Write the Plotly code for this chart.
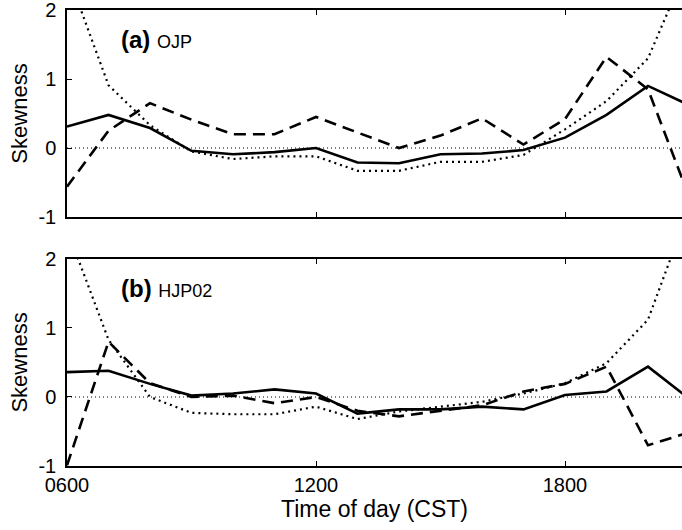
import plotly.graph_objects as go

hours = [6, 7, 8, 9, 10, 11, 12, 13, 14, 15, 16, 17, 18, 19, 20, 21]

# Panel (a) OJP
ojp_solid = [0.31, 0.48, 0.29, -0.04, -0.09, -0.06, 0.00, -0.21, -0.22, -0.09, -0.08, -0.03, 0.15, 0.48, 0.90, 0.62]
ojp_dashed = [-0.56, 0.25, 0.65, 0.41, 0.20, 0.20, 0.45, 0.22, 0.00, 0.18, 0.43, 0.05, 0.42, 1.32, 0.85, -0.72]
ojp_dotted = [2.55, 0.91, 0.33, -0.05, -0.16, -0.12, -0.12, -0.33, -0.33, -0.20, -0.20, -0.10, 0.27, 0.68, 1.30, 2.70]

# Panel (b) HJP02
hjp_solid = [0.36, 0.38, 0.19, 0.02, 0.05, 0.11, 0.05, -0.24, -0.18, -0.18, -0.14, -0.18, 0.03, 0.08, 0.44, -0.03]
hjp_dashed = [-0.99, 0.80, 0.20, 0.00, 0.02, -0.09, 0.00, -0.20, -0.28, -0.20, -0.12, 0.08, 0.19, 0.44, -0.70, -0.51]
hjp_dotted = [2.43, 0.83, 0.00, -0.23, -0.25, -0.25, -0.14, -0.32, -0.21, -0.14, -0.07, 0.05, 0.20, 0.49, 1.12, 2.75]

x_tickvals = [6, 12, 18]
x_ticktext = ["0600", "1200", "1800"]
y_tickvals = [-1, 0, 1, 2]
y_ticktext = ["-1", "0", "1", "2"]
panel_labels = [("(a)", "OJP"), ("(b)", "HJP02")]

FONT = "Liberation Sans, Arial, sans-serif"

fig = go.Figure()

styles = [
    dict(color="black", width=2.6, dash="solid"),
    dict(color="black", width=2.6, dash="12px,7px"),
    dict(color="black", width=2.2, dash="2px,4px"),
]

for series, xa, ya in [((ojp_solid, ojp_dashed, ojp_dotted), "x", "y"),
                       ((hjp_solid, hjp_dashed, hjp_dotted), "x2", "y2")]:
    for vals, st in zip(series, styles):
        fig.add_trace(go.Scatter(x=hours, y=vals, mode="lines", line=st,
                                 xaxis=xa, yaxis=ya, showlegend=False, hoverinfo="skip"))

xr = [6, 6 + (682 - 67) / 41.5]
common_x = dict(range=xr, tickvals=x_tickvals, ticktext=x_ticktext, ticks="inside", ticklen=5,
                tickwidth=1, tickcolor="black", showline=True, linecolor="black", linewidth=1.5,
                mirror="ticks", showgrid=False, zeroline=False, automargin=False,
                tickfont=dict(family=FONT, size=20, color="black"))
common_y = dict(range=[-1, 2], tickvals=y_tickvals, ticktext=y_ticktext, ticks="inside", ticklen=5,
                tickwidth=1, tickcolor="black", showline=True, linecolor="black", linewidth=1.5,
                showgrid=False, zeroline=False, automargin=False, ticklabeloverflow="allow",
                ticklabelstandoff=5,
                tickfont=dict(family=FONT, size=20, color="black"),
                title=dict(text="Skewness", font=dict(family=FONT, size=22, color="black"), standoff=5))

fig.update_layout(
    width=682, height=530,
    margin=dict(l=67, r=0, t=10, b=64, autoexpand=False),
    paper_bgcolor="white", plot_bgcolor="white",
    xaxis=dict(common_x, anchor="y", showticklabels=False),
    yaxis=dict(common_y, domain=[0.546, 1], anchor="x"),
    xaxis2=dict(common_x, anchor="y2",
                title=dict(text="Time of day (CST)", font=dict(family=FONT, size=23, color="black"), standoff=6)),
    yaxis2=dict(common_y, domain=[0, 0.454], anchor="x2"),
)

for (lab, name), xref, yref in zip(panel_labels, ["x", "x2"], ["y", "y2"]):
    fig.add_shape(type="line", xref=f"{xref} domain", yref=yref, x0=0, x1=1, y0=0, y1=0,
                  line=dict(color="black", width=1.2, dash="1px,3px"))
    fig.add_annotation(xref=xref, yref=yref, x=7.25, y=1.57, xanchor="left", yanchor="middle",
                       text=f"<b>{lab}</b> <span style='font-size:18px'>{name}</span>",
                       showarrow=False, font=dict(family=FONT, size=24, color="black"))

fig.write_html("out.html", config={"displayModeBar": False},
               post_script="document.body.style.margin='0';document.body.style.overflow='hidden';")
